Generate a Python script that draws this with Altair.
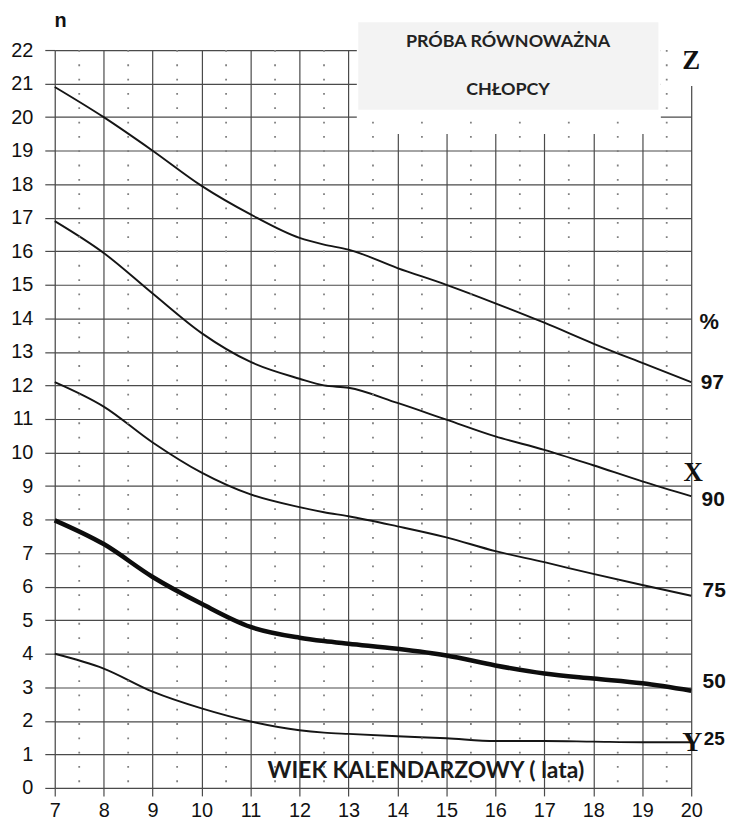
import altair as alt
import pandas as pd

# ---- data ----
ages = [7, 8, 9, 10, 11, 12, 12.5, 13, 14, 15, 16, 17, 18, 19, 20]
p97 = [20.9, 20.0, 19.0, 17.95, 17.1, 16.4, 16.2, 16.05, 15.5, 15.0, 14.45, 13.87, 13.25, 12.67, 12.1]
p90 = [16.9, 15.95, 14.74, 13.56, 12.7, 12.2, 12.0, 11.93, 11.48, 10.98, 10.48, 10.08, 9.62, 9.14, 8.7]
p75 = [12.1, 11.37, 10.3, 9.4, 8.75, 8.37, 8.22, 8.1, 7.8, 7.47, 7.06, 6.73, 6.38, 6.05, 5.73]
p50 = [7.98, 7.27, 6.29, 5.49, 4.8, 4.48, 4.38, 4.3, 4.15, 3.95, 3.65, 3.41, 3.26, 3.12, 2.9]
p25 = [4.0, 3.56, 2.87, 2.37, 1.98, 1.72, 1.65, 1.61, 1.54, 1.48, 1.4, 1.4, 1.38, 1.36, 1.36]

x_ticks = list(range(7, 21))
y_ticks = list(range(0, 23))
half_years = [a + 0.5 for a in range(7, 20)]

title_lines = ["PRÓBA RÓWNOWAŻNA", "CHŁOPCY"]
x_title = "WIEK KALENDARZOWY ( lata)"
pct_labels = ["97", "90", "75", "50", "25"]
letter_labels = ["Z", "X", "Y"]

# ---- build tables ----
thin = []
for name, vals in [("97", p97), ("90", p90), ("75", p75), ("25", p25)]:
    for a, v in zip(ages, vals):
        thin.append({"age": a, "n": v, "pct": name})
thin_df = pd.DataFrame(thin)
thick_df = pd.DataFrame({"age": ages, "n": p50})

xs = alt.Scale(domain=[7, 20], nice=False, zero=False)
ys = alt.Scale(domain=[0, 22], nice=False, zero=True)

GRID = "#4a4a4a"
x_axis = alt.Axis(values=x_ticks, grid=True, gridColor=GRID, gridWidth=1.2,
                  domain=False, ticks=True, tickSize=8, tickColor=GRID, tickWidth=1.2,
                  labelFont="Liberation Sans", labelFontSize=20, labelColor="#111",
                  labelPadding=5, labelFlush=False, title=None)
y_axis = alt.Axis(values=y_ticks, grid=True, gridColor=GRID, gridWidth=1.2,
                  domain=False, ticks=True, tickSize=10, tickColor=GRID, tickWidth=1.2,
                  labelFont="Liberation Sans", labelFontSize=20, labelColor="#111",
                  labelPadding=12, labelFlush=False, title=None)


def X(field):
    return alt.X(field, scale=xs, axis=x_axis)


def Y(field):
    return alt.Y(field, scale=ys, axis=y_axis)


# cleared (white) areas behind the title box, and the grey box
clear_df = pd.DataFrame({"x1": [13.17, 19.38], "x2": [19.38, 20.3],
                         "y1": [19.5, 20.93], "y2": [22.9, 22.9]})
box_df = pd.DataFrame({"x1": [13.2], "x2": [19.33], "y1": [20.22], "y2": [22.83]})

curves = alt.Chart(thin_df).mark_line(interpolate="monotone", color="#151515",
                                      strokeWidth=1.9).encode(
    x=X("age:Q"), y=Y("n:Q"), detail="pct:N",
)
median = alt.Chart(thick_df).mark_line(interpolate="monotone", color="#0d0d0d",
                                       strokeWidth=4.6).encode(
    x=X("age:Q"), y=Y("n:Q"),
)

clear = alt.Chart(clear_df).mark_rect(color="white").encode(
    x=X("x1:Q"), x2="x2:Q", y=Y("y1:Q"), y2="y2:Q",
)
dots = alt.Chart(pd.DataFrame({"h": half_years, "top": 22, "bot": 0})).mark_rule(
    color="#808080", strokeWidth=1.8, strokeDash=[1.8, 12.6]).encode(
    x=X("h:Q"), y=Y("top:Q"), y2="bot:Q",
)
box = alt.Chart(box_df).mark_rect(color="#f3f3f3").encode(
    x=X("x1:Q"), x2="x2:Q", y=Y("y1:Q"), y2="y2:Q",
)


def label(text, x, y, font, size, weight="bold", color="#111"):
    d = pd.DataFrame({"t": [text], "x": [x], "y": [y]})
    return alt.Chart(d).mark_text(font=font, fontSize=size, fontWeight=weight,
                                  color=color, align="center", baseline="middle").encode(
        x=X("x:Q"), y=Y("y:Q"), text="t:N",
    )


texts = [
    label("n", 7.12, 22.86, "Liberation Sans", 20),
    label(title_lines[0], 16.26, 22.24, "Lato", 18, color="#222"),
    label(title_lines[1], 16.26, 20.81, "Lato", 18, color="#222"),
    label(letter_labels[0], 20.0, 21.67, "Liberation Serif", 27),
    label("%", 20.37, 13.88, "Liberation Sans", 22),
    label(pct_labels[0], 20.43, 12.08, "Liberation Sans", 21),
    label(letter_labels[1], 20.04, 9.40, "Liberation Serif", 27),
    label(pct_labels[1], 20.45, 8.57, "Liberation Sans", 21),
    label(pct_labels[2], 20.47, 5.87, "Liberation Sans", 21),
    label(pct_labels[3], 20.47, 3.17, "Liberation Sans", 21),
    label(letter_labels[2], 20.02, 1.33, "Liberation Serif", 28),
    label(pct_labels[4], 20.47, 1.45, "Liberation Sans", 19),
    label(x_title, 14.58, 0.50, "Lato", 23, color="#1a1a1a"),
]

chart = alt.layer(curves, clear, dots, box, median, *texts).properties(
    width=640, height=742,
    padding={"left": 47, "top": 40, "right": 35, "bottom": 35},
    autosize=alt.AutoSizeParams(type="none"),
).configure_view(strokeWidth=0).configure(background="white")

chart.save("out.html", embed_options={"renderer": "svg", "actions": False})
